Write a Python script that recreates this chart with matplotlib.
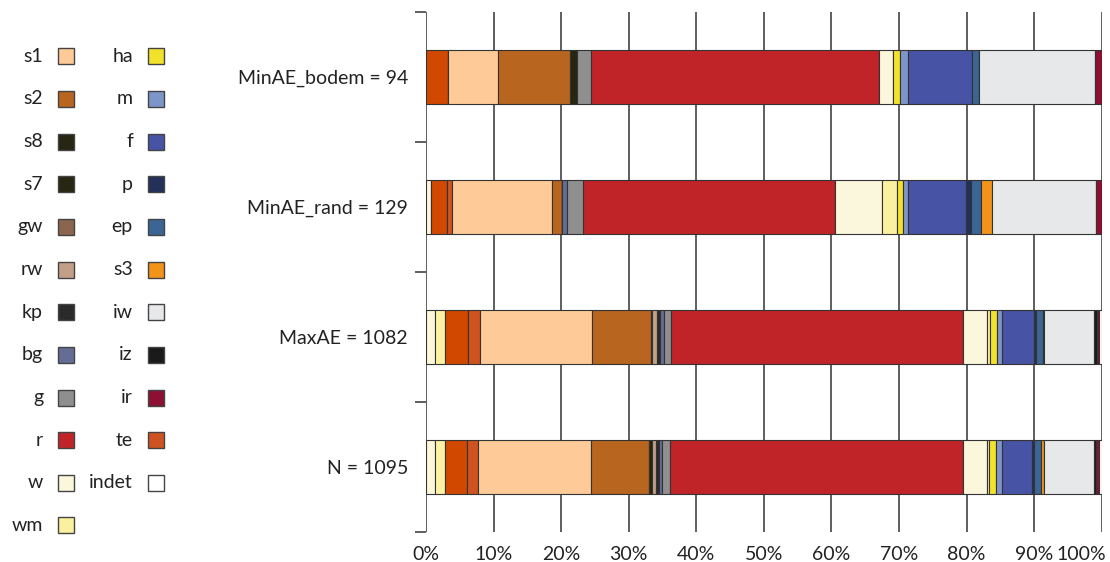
"""Stacked 100% bars of category shares per selection, with a two-column legend."""

import matplotlib
matplotlib.use("Agg")

import matplotlib.pyplot as plt
import matplotlib.transforms as mtransforms
from matplotlib.patches import Rectangle
import numpy as np

plt.rcParams.update({
    "font.family": ["Lato", "DejaVu Sans"],
    "font.size": 14,
    "text.color": "#222222",
    "xtick.color": "#222222",
    "ytick.color": "#222222",
})

# ---------------------------------------------------------------------------
# Data (counts per category, in stacking order)
# ---------------------------------------------------------------------------
STACK = ["lw", "lwm", "dte", "te", "s1", "s2", "s8", "s7", "gw", "rw", "kp",
         "bg", "g", "r", "w", "wm", "ha", "m", "f", "p", "ep", "s3", "iw",
         "iz", "ir", "indet"]

GROUPS = ["MinAE_bodem", "MinAE_rand", "MaxAE", "N"]

bodem = [0, 0, 3, 0, 7, 10, 1, 0, 0, 0, 0, 0, 2, 40, 2, 0, 1, 1, 9, 0, 1, 0,
         16, 0, 1, 0]
rand = [1, 0, 3, 1, 19, 2, 0, 0, 0, 0, 0, 1, 3, 48, 9, 3, 1, 1, 11, 1, 2, 2,
        20, 0, 1, 0]
maxae = [15, 15, 37, 19, 180, 95, 0, 1, 0, 8, 4, 7, 11, 468, 39, 4, 11, 9, 50,
         3, 12, 2, 80, 4, 3, 5]
n_all = [14, 16, 37, 18, 182, 95, 0, 4, 0, 6, 5, 6, 13, 474, 39, 4, 11, 10,
         48, 4, 11, 4, 81, 3, 5, 5]

COLORS = {
    "lw": "#fff7da", "lwm": "#fdf2a4", "dte": "#d14900", "te": "#cf5320",
    "s1": "#fecb98", "s2": "#b7651f", "s8": "#262612", "s7": "#262612",
    "gw": "#8b6550", "rw": "#c39e88", "kp": "#2a2a2a", "bg": "#646d96",
    "g": "#8f8f8f", "r": "#c02428", "w": "#faf7dd", "wm": "#fbf0a0",
    "ha": "#f3e22c", "m": "#7d95c9", "f": "#4753a4", "p": "#22305a",
    "ep": "#3a6595", "s3": "#f39419", "iw": "#e7e8ea", "iz": "#1a1a1a",
    "ir": "#8d1033", "indet": "#ffffff",
}

LEGEND = ["s1", "s2", "s8", "s7", "gw", "rw", "kp", "bg", "g", "r", "w", "wm",
          "ha", "m", "f", "p", "ep", "s3", "iw", "iz", "ir", "te", "indet"]

counts = np.array([bodem, rand, maxae, n_all], dtype=float)
totals = counts.sum(axis=1)
shares = counts / totals[:, None] * 100.0
labels = [f"{g} = {int(t)}" for g, t in zip(GROUPS, totals)]

# ---------------------------------------------------------------------------
# Figure
# ---------------------------------------------------------------------------
W, H = 1110, 562
fig = plt.figure(figsize=(W / 100, H / 100), dpi=100)
ax = fig.add_axes([426 / W, 1 - 532 / H, (1101.7 - 426) / W, 520 / H])

y = np.arange(len(GROUPS))
left = np.zeros(len(GROUPS))
for j, cat in enumerate(STACK):
    ax.barh(y, shares[:, j], left=left, height=0.41, color=COLORS[cat],
            edgecolor="#333333", linewidth=0.8, zorder=3)
    left += shares[:, j]

ax.set_xlim(0, 100)
ax.set_ylim(len(GROUPS) - 0.5, -0.5)
for s in ax.spines.values():
    s.set_visible(False)

ax.set_xticks(np.arange(0, 101, 10))
ax.set_xticklabels([f"{v}%" for v in range(0, 101, 10)])
ax.tick_params(axis="x", length=0, pad=10)
ax.grid(axis="x", color="#333333", lw=1.1, zorder=0)
# keep the last label inside the canvas
last = ax.get_xticklabels()[-1]
last.set_horizontalalignment("right")
last.set_transform(last.get_transform() +
                   mtransforms.ScaledTranslation(4 / 100, 0, fig.dpi_scale_trans))

ax.set_yticks(y)
ax.set_yticklabels(labels)
ax.set_yticks(np.arange(-0.5, len(GROUPS)), minor=True)
ax.tick_params(axis="y", which="major", length=0, pad=13)
ax.tick_params(axis="y", which="minor", length=8, width=1.1, color="#333333")

# ── Legend (two columns, label left of swatch) ─────────────────────────────
lax = fig.add_axes([0, 0, 180 / W, 1])
lax.set_xlim(0, 180)
lax.set_ylim(H, 0)
lax.axis("off")
for i, cat in enumerate(LEGEND):
    col, row = divmod(i, 12)
    yc = 56.3 + row * 42.65
    x0 = 58 + col * 90
    lax.add_patch(Rectangle((x0, yc - 8), 16, 16, facecolor=COLORS[cat],
                            edgecolor="#444444", lw=1.0))
    lax.text(x0 - 15, yc, cat, ha="right", va="center", fontsize=14)

fig.savefig("out.png", dpi=100)
